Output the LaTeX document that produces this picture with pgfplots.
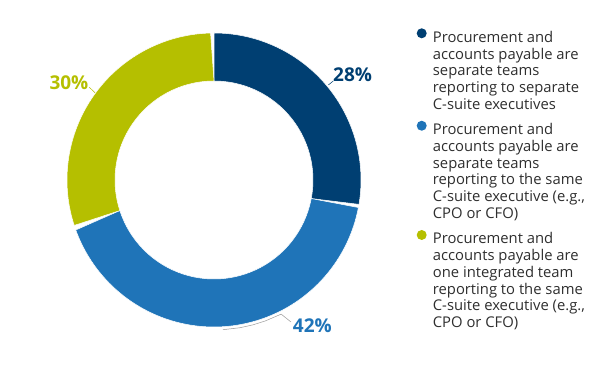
\documentclass[border=0pt]{standalone}
\usepackage{pgfplots}
\pgfplotsset{compat=1.18}
\usepackage{pgfplotstable}
\usepackage{fontspec}
\setmainfont{Open Sans}
\definecolor{cNavy}{HTML}{003F72}
\definecolor{cBlue}{HTML}{1F74B8}
\definecolor{cLime}{HTML}{B5BF00}
\definecolor{cText}{HTML}{2E2E2E}
\definecolor{cLead}{HTML}{9A9A9A}

\pgfplotstableread{
share
28
42
30
}\slicetable

\begin{document}
\begin{tikzpicture}
\pgfplotstablegetelem{0}{share}\of\slicetable \let\vA\pgfplotsretval
\pgfplotstablegetelem{1}{share}\of\slicetable \let\vB\pgfplotsretval
\pgfplotstablegetelem{2}{share}\of\slicetable \let\vC\pgfplotsretval
\pgfmathsetmacro{\aA}{90}
\pgfmathsetmacro{\aB}{\aA-3.6*\vA}
\pgfmathsetmacro{\aC}{\aB-3.6*\vB}
\pgfmathsetmacro{\aD}{\aC-3.6*\vC}
\def\Rout{1.47}\def\Rin{0.99}
\useasboundingbox (0,0) rectangle (600pt,371pt);
\begin{axis}[at={(214pt,191pt)}, anchor=center, width=300pt, height=300pt,
  scale only axis, xmin=-1.5, xmax=1.5, ymin=-1.5, ymax=1.5, hide axis, clip=false]
\addplot[fill=cNavy, draw=white, line width=0.5pt, domain=0:2, samples=161, variable=\t]
 ({ifthenelse(\t<1,\Rout,\Rin)*cos(ifthenelse(\t<1,\aA+(\aB-\aA)*\t,\aB-(\aB-\aA)*(\t-1)))},
  {ifthenelse(\t<1,\Rout,\Rin)*sin(ifthenelse(\t<1,\aA+(\aB-\aA)*\t,\aB-(\aB-\aA)*(\t-1)))}) -- cycle;
\addplot[fill=cBlue, draw=white, line width=0.5pt, domain=0:2, samples=161, variable=\t]
 ({ifthenelse(\t<1,\Rout,\Rin)*cos(ifthenelse(\t<1,\aB+(\aC-\aB)*\t,\aC-(\aC-\aB)*(\t-1)))},
  {ifthenelse(\t<1,\Rout,\Rin)*sin(ifthenelse(\t<1,\aB+(\aC-\aB)*\t,\aC-(\aC-\aB)*(\t-1)))}) -- cycle;
\addplot[fill=cLime, draw=white, line width=0.5pt, domain=0:2, samples=161, variable=\t]
 ({ifthenelse(\t<1,\Rout,\Rin)*cos(ifthenelse(\t<1,\aC+(\aD-\aC)*\t,\aD-(\aD-\aC)*(\t-1)))},
  {ifthenelse(\t<1,\Rout,\Rin)*sin(ifthenelse(\t<1,\aC+(\aD-\aC)*\t,\aD-(\aD-\aC)*(\t-1)))}) -- cycle;
% leader lines
\draw[cNavy, line width=0.5pt] (axis cs:1.143,0.95) -- (axis cs:1.193,0.99);
\draw[cLime, line width=0.5pt] (axis cs:-1.19,0.873) -- (axis cs:-1.247,0.927);
\draw[cLead, line width=0.5pt] (axis cs:0.089,-1.497) -- (axis cs:0.2605,-1.4772) -- (axis cs:0.3882,-1.4489) -- (axis cs:0.5130,-1.4095) -- (axis cs:0.6717,-1.3413) -- (axis cs:0.77,-1.42);
% labels
\node[anchor=base west, inner sep=0, text=cNavy, font=\fontsize{19}{22}\selectfont\bfseries] at (axis cs:1.19,0.98) {28\%};
\node[anchor=base west, inner sep=0, text=cLime, font=\fontsize{19}{22}\selectfont\bfseries] at (axis cs:-1.647,0.907) {30\%};
\node[anchor=base west, inner sep=0, text=cBlue, font=\fontsize{19}{22}\selectfont\bfseries] at (axis cs:0.787,-1.53) {42\%};
\end{axis}
% legend
\fill[cNavy] (421.7pt,337.7pt) circle[radius=5pt];
\fill[cBlue] (421.7pt,245.25pt) circle[radius=5pt];
\fill[cLime] (421.7pt,136pt) circle[radius=5pt];
\begin{scope}[every node/.style={anchor=base west, inner sep=0, text=cText, font=\fontsize{14.8}{16.75}\selectfont}]
\node at (432.7pt,328.7pt) {Procurement and};
\node at (432.7pt,311.95pt) {accounts payable are};
\node at (432.7pt,295.2pt) {separate teams};
\node at (432.7pt,278.45pt) {reporting to separate};
\node at (432.7pt,261.7pt) {C-suite executives};
\node at (432.7pt,236.25pt) {Procurement and};
\node at (432.7pt,219.5pt) {accounts payable are};
\node at (432.7pt,202.75pt) {separate teams};
\node at (432.7pt,186pt) {reporting to the same};
\node at (432.7pt,169.25pt) {C-suite executive (e.g.,};
\node at (432.7pt,152.5pt) {CPO or CFO)};
\node at (432.7pt,127pt) {Procurement and};
\node at (432.7pt,110.25pt) {accounts payable are};
\node at (432.7pt,93.5pt) {one integrated team};
\node at (432.7pt,76.75pt) {reporting to the same};
\node at (432.7pt,60pt) {C-suite executive (e.g.,};
\node at (432.7pt,43.25pt) {CPO or CFO)};
\end{scope}
\end{tikzpicture}
\end{document}
